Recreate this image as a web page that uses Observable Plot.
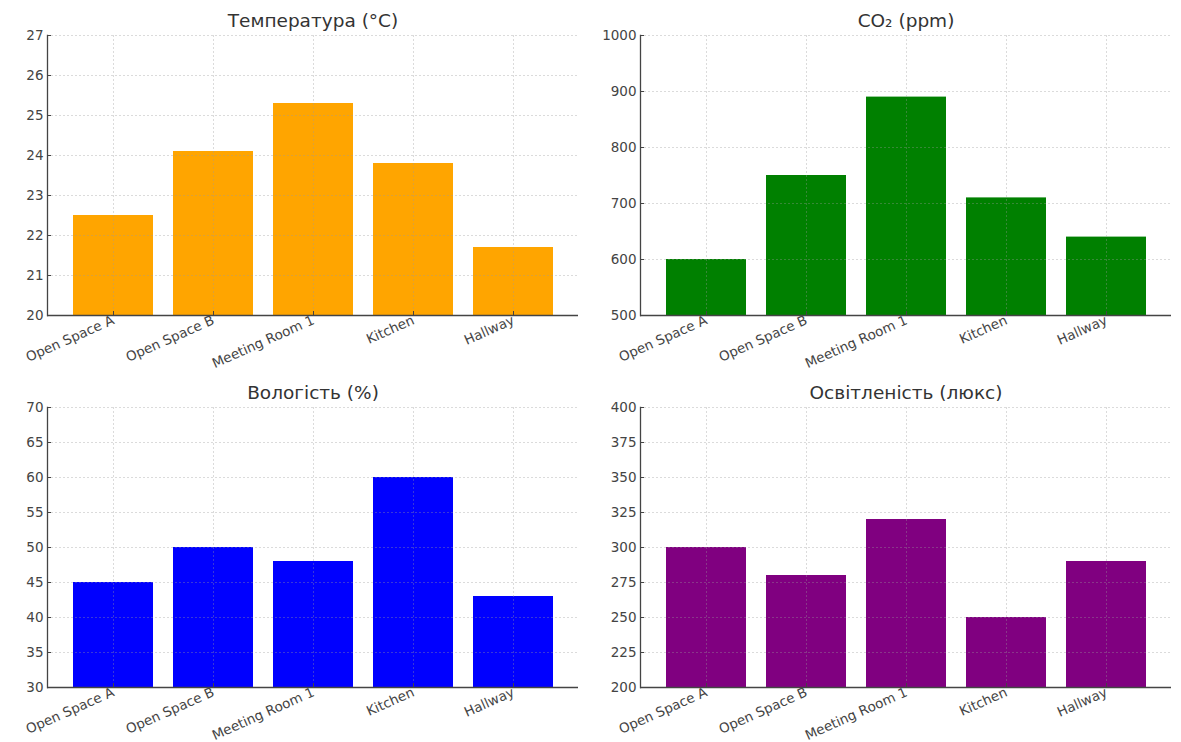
<!DOCTYPE html>
<html>
<head>
<meta charset="utf-8">
<script src="https://cdn.jsdelivr.net/npm/d3@7"></script>
<script src="https://cdn.jsdelivr.net/npm/@observablehq/plot@0.6"></script>
<style>
  html, body { margin: 0; padding: 0; background: #fff; }
  #root { position: relative; width: 1181px; height: 742px; overflow: hidden; font-family: "DejaVu Sans", sans-serif; }
  .panel { position: absolute; overflow: visible; }
</style>
</head>
<body>
<div id="root"></div>
<script>
const categories = ["Open Space A", "Open Space B", "Meeting Room 1", "Kitchen", "Hallway"];

const temperature = [22.5, 24.1, 25.3, 23.8, 21.7];
const co2 = [600, 750, 890, 710, 640];
const humidity = [45, 50, 48, 60, 43];
const illuminance = [300, 280, 320, 250, 290];

const titles = ["Температура (°C)", "CO₂ (ppm)", "Вологість (%)", "Освітленість (люкс)"];
const colors = ["#FFA500", "#008000", "#0000FF", "#800080"];

const tempTicks = [20, 21, 22, 23, 24, 25, 26, 27];
const co2Ticks = [500, 600, 700, 800, 900, 1000];
const humidityTicks = [30, 35, 40, 45, 50, 55, 60, 65, 70];
const illuminanceTicks = [200, 225, 250, 275, 300, 325, 350, 375, 400];

const panels = [
  {values: temperature, ticks: tempTicks, title: titles[0], color: colors[0], left: 0, top: 0, width: 590, mL: 47, mR: 12, mT: 35, mB: 56},
  {values: co2, ticks: co2Ticks, title: titles[1], color: colors[1], left: 590, top: 0, width: 591, mL: 50, mR: 10, mT: 35, mB: 56},
  {values: humidity, ticks: humidityTicks, title: titles[2], color: colors[2], left: 0, top: 371, width: 590, mL: 47, mR: 12, mT: 36, mB: 55},
  {values: illuminance, ticks: illuminanceTicks, title: titles[3], color: colors[3], left: 590, top: 371, width: 591, mL: 50, mR: 10, mT: 36, mB: 55}
];

const root = document.getElementById("root");

for (const p of panels) {
  const data = categories.map((c, i) => ({category: c, value: p.values[i]}));
  const lo = p.ticks[0], hi = p.ticks[p.ticks.length - 1];
  const plotW = p.width - p.mL - p.mR;
  const plotH = 371 - p.mT - p.mB;
  const chart = Plot.plot({
    width: p.width,
    height: 371,
    marginLeft: p.mL,
    marginRight: p.mR,
    marginTop: p.mT,
    marginBottom: p.mB,
    style: {fontFamily: "DejaVu Sans, sans-serif", fontSize: "13.5px", color: "#444", background: "transparent", overflow: "visible"},
    x: {domain: categories, paddingInner: 0.2, paddingOuter: 0.24, label: null, tickRotate: -24, tickSize: 0, tickPadding: 4},
    y: {domain: [lo, hi], ticks: p.ticks, tickFormat: d3.format("d"), label: null, tickSize: 0, tickPadding: 4},
    marks: [
      Plot.barY(data, {x: "category", y1: lo, y2: "value", fill: p.color}),
      Plot.ruleY(p.ticks, {stroke: "#999", strokeOpacity: 0.45, strokeDasharray: "2,2", strokeWidth: 0.8}),
      Plot.ruleX(categories, {stroke: "#999", strokeOpacity: 0.45, strokeDasharray: "2,2", strokeWidth: 0.8}),
      Plot.ruleX(categories, {insetTop: plotH - 4, stroke: "#444", strokeWidth: 1}),
      Plot.ruleY(p.ticks, {insetRight: plotW - 4, stroke: "#444", strokeWidth: 1}),
      Plot.ruleY([lo], {stroke: "#444", strokeWidth: 1.3}),
      Plot.frame({anchor: "left", stroke: "#444", strokeWidth: 1.3}),
      Plot.text([p.title], {frameAnchor: "top", dy: -22, fontSize: 18.5, fill: "#333"})
    ]
  });
  chart.classList.add("panel");
  chart.style.left = p.left + "px";
  chart.style.top = p.top + "px";
  root.appendChild(chart);
}
</script>
</body>
</html>
